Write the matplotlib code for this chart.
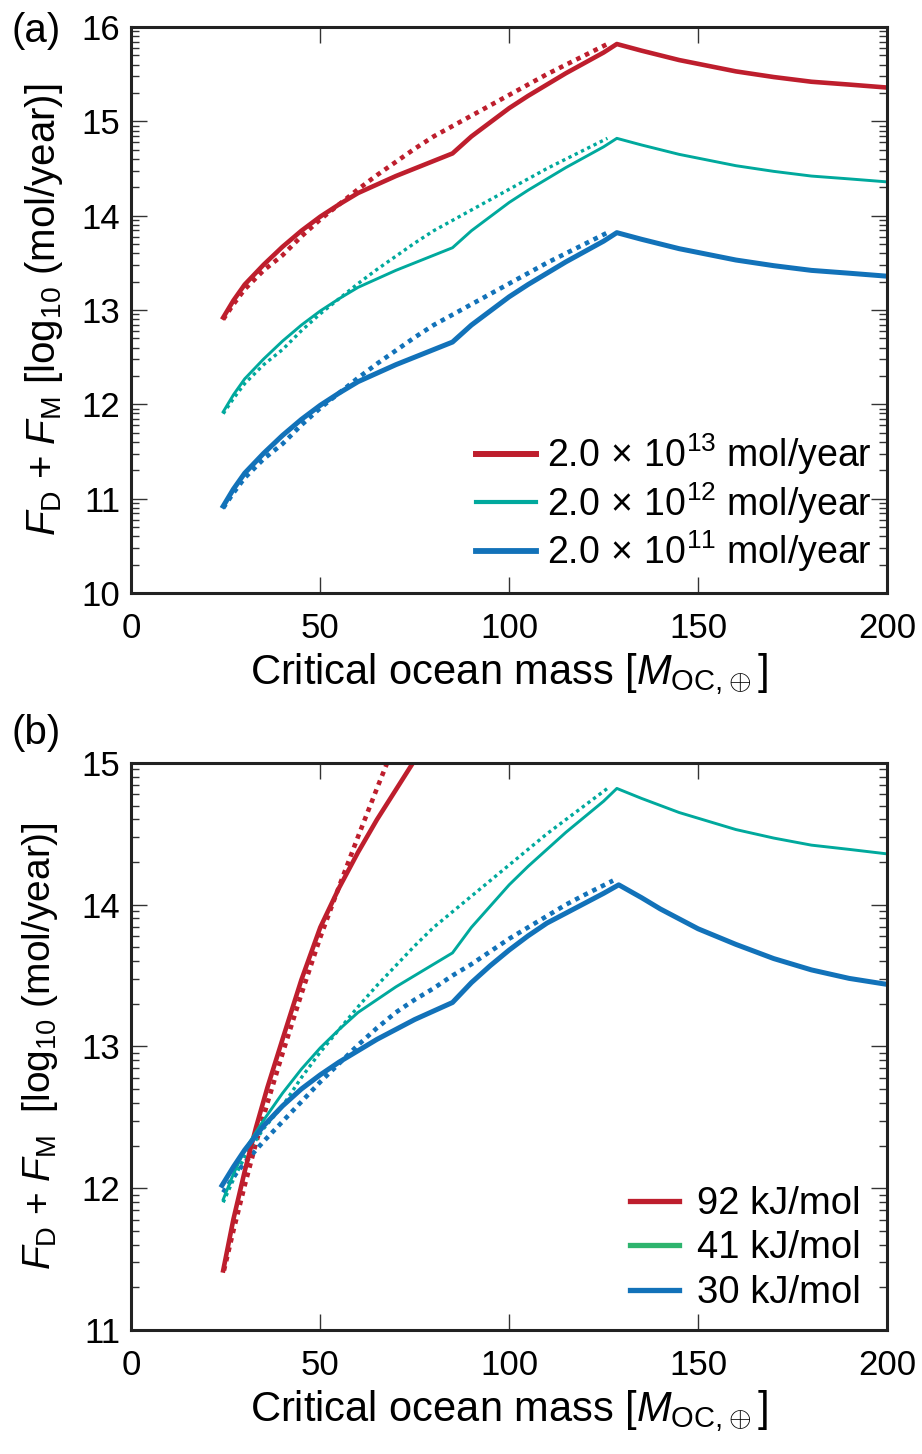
import numpy as np
import matplotlib
matplotlib.use("Agg")
import matplotlib.pyplot as plt
from matplotlib.lines import Line2D
from matplotlib.ticker import FixedLocator

# ============================================================
# DATA
# ============================================================

# --- panel (a): different mantle fluxes ---
xa_sol = [24.3, 27, 30, 35, 40, 45, 50, 55, 60, 65, 70, 75, 80, 85,
          90, 95, 100, 105, 110, 115, 120, 125, 128.5,
          135, 140, 145, 150, 160, 170, 180, 190, 199.5]
ya_red = [12.92, 13.10, 13.27, 13.48, 13.67, 13.84, 13.99, 14.12, 14.24, 14.33, 14.42, 14.50, 14.58, 14.66,
          14.84, 14.99, 15.14, 15.27, 15.39, 15.51, 15.62, 15.73, 15.82,
          15.75, 15.70, 15.65, 15.61, 15.53, 15.47, 15.42, 15.39, 15.36]
ya_teal = [11.92, 12.10, 12.27, 12.48, 12.67, 12.84, 12.99, 13.12, 13.24, 13.33, 13.42, 13.50, 13.58, 13.66,
           13.84, 13.99, 14.14, 14.27, 14.39, 14.51, 14.62, 14.73, 14.82,
           14.75, 14.70, 14.65, 14.61, 14.53, 14.47, 14.42, 14.39, 14.36]
ya_blue = [10.92, 11.10, 11.27, 11.48, 11.67, 11.84, 11.99, 12.12, 12.24, 12.33, 12.42, 12.50, 12.58, 12.66,
           12.84, 12.99, 13.14, 13.27, 13.39, 13.51, 13.62, 13.73, 13.82,
           13.75, 13.70, 13.65, 13.61, 13.53, 13.47, 13.42, 13.39, 13.36]

xa_dot = [24.3, 27, 30, 35, 40, 45, 50, 55, 60, 65, 70, 75, 80, 85,
          90, 95, 100, 105, 110, 115, 120, 126]
ya_red_dot = [12.90, 13.06, 13.22, 13.42, 13.58, 13.78, 13.96, 14.12, 14.28, 14.43, 14.57, 14.71, 14.84, 14.95,
              15.06, 15.17, 15.28, 15.39, 15.50, 15.60, 15.70, 15.82]
ya_teal_dot = [11.90, 12.06, 12.22, 12.42, 12.58, 12.78, 12.96, 13.12, 13.28, 13.43, 13.57, 13.71, 13.84, 13.95,
               14.06, 14.17, 14.28, 14.39, 14.50, 14.60, 14.70, 14.82]
ya_blue_dot = [10.90, 11.06, 11.22, 11.42, 11.58, 11.78, 11.96, 12.12, 12.28, 12.43, 12.57, 12.71, 12.84, 12.95,
               13.06, 13.17, 13.28, 13.39, 13.50, 13.60, 13.70, 13.82]

labels_a = [r"2.0$\,\times\,$10$^{13}$ mol/year",
            r"2.0$\,\times\,$10$^{12}$ mol/year",
            r"2.0$\,\times\,$10$^{11}$ mol/year"]

# --- panel (b): different activation energies ---
xb_red = [24.3, 27, 30, 33, 36, 40, 45, 50, 55, 60, 65, 70, 75]
yb_red = [11.42, 11.78, 12.12, 12.43, 12.71, 13.05, 13.47, 13.84, 14.12, 14.37, 14.60, 14.81, 15.02]
xb_red_dot = [24.5, 27, 30, 33, 36, 40, 45, 50, 55, 60, 65, 68]
yb_red_dot = [11.42, 11.70, 12.02, 12.32, 12.60, 12.95, 13.37, 13.77, 14.13, 14.48, 14.82, 15.02]

xb_blue = [24, 27, 30, 35, 40, 45, 50, 55, 60, 65, 70, 75, 80, 85,
           90, 95, 100, 105, 110, 115, 120, 125, 129,
           135, 140, 150, 160, 170, 180, 190, 199.5]
yb_blue = [12.02, 12.15, 12.27, 12.44, 12.58, 12.70, 12.80, 12.89, 12.97, 13.05, 13.12, 13.19, 13.25, 13.31,
           13.45, 13.57, 13.68, 13.78, 13.87, 13.94, 14.01, 14.08, 14.14,
           14.05, 13.97, 13.83, 13.72, 13.62, 13.54, 13.48, 13.44]
xb_blue_dot = [24.3, 27, 30, 35, 40, 45, 50, 55, 60, 65, 70, 75, 80, 85,
               90, 95, 100, 105, 110, 115, 120, 127.5]
yb_blue_dot = [11.97, 12.08, 12.18, 12.33, 12.47, 12.61, 12.75, 12.88, 13.01, 13.13, 13.24, 13.33, 13.41, 13.50,
               13.58, 13.67, 13.76, 13.84, 13.92, 14.00, 14.07, 14.17]

labels_b = ["92 kJ/mol", "41 kJ/mol", "30 kJ/mol"]

# ============================================================
# STYLE
# ============================================================

RED = "#BE1E2D"
TEAL = "#00A99D"
GREEN = "#2EB46E"
BLUE = "#1272B9"
DOT = (0, (1.0, 1.1))

plt.rcParams["font.family"] = ["Liberation Sans", "DejaVu Sans"]
plt.rcParams["mathtext.fontset"] = "custom"
plt.rcParams["mathtext.rm"] = "Liberation Sans"
plt.rcParams["mathtext.it"] = "Liberation Sans:italic"
plt.rcParams["mathtext.bf"] = "Liberation Sans:bold"

TICK_FS = 25
XLABEL_FS = 30


def style_axes(ax, ymin, ymax):
    ax.set_xlim(0, 200)
    ax.set_ylim(ymin, ymax)
    ax.set_xticks([0, 50, 100, 150, 200])
    ax.set_yticks(np.arange(ymin, ymax + 1))
    minors = [n + np.log10(k) for n in range(ymin, ymax) for k in range(2, 10)]
    ax.yaxis.set_minor_locator(FixedLocator(minors))
    ax.tick_params(which="both", direction="in", top=True, right=True,
                   labelsize=TICK_FS, color="#333333")
    ax.tick_params(which="major", length=11.5, width=1.0)
    ax.tick_params(which="minor", length=5.5, width=1.0)
    ax.tick_params(axis="x", pad=14)
    ax.tick_params(axis="y", pad=8)
    for s in ax.spines.values():
        s.set_linewidth(2.2)
        s.set_color("#222222")
    ax.set_xlabel(r"Critical ocean mass [$M_{\rm OC,\!\oplus}$]", fontsize=XLABEL_FS, labelpad=4)


fig = plt.figure(figsize=(9.22, 14.54), dpi=100)
ax1 = fig.add_axes([0.1425, 0.5922, 0.8195, 0.3892])
ax2 = fig.add_axes([0.1425, 0.0853, 0.8195, 0.3900])

# ============================================================
# PANEL (a)
# ============================================================

ax1.plot(xa_dot, ya_red_dot, color=RED, lw=3.3, linestyle=DOT)
ax1.plot(xa_dot, ya_teal_dot, color=TEAL, lw=2.4, linestyle=DOT)
ax1.plot(xa_dot, ya_blue_dot, color=BLUE, lw=3.3, linestyle=DOT)
ax1.plot(xa_sol, ya_red, color=RED, lw=3.3)
ax1.plot(xa_sol, ya_teal, color=TEAL, lw=2.1)
ax1.plot(xa_sol, ya_blue, color=BLUE, lw=3.6)

style_axes(ax1, 10, 16)
ax1.set_ylabel(r"$F_{\rm D}$ + $F_{\rm M}$ [log$_{10}$ (mol/year)]", fontsize=29)
ax1.yaxis.set_label_coords(-0.088, 0.5)

hand_a = [Line2D([], [], color=RED, lw=4.3),
          Line2D([], [], color=TEAL, lw=3.0),
          Line2D([], [], color=BLUE, lw=4.2)]
ax1.legend(hand_a, labels_a, loc="lower right", bbox_to_anchor=(1.005, 0.0),
           frameon=False, fontsize=27, handlelength=1.6, handletextpad=0.3,
           labelspacing=0.08, borderaxespad=0.1)
fig.text(0.012, 0.979, "(a)", fontsize=29, va="center", ha="left")

# ============================================================
# PANEL (b)
# ============================================================

ax2.plot(xb_red_dot, yb_red_dot, color=RED, lw=3.3, linestyle=DOT)
ax2.plot(xa_dot, ya_teal_dot, color=TEAL, lw=2.4, linestyle=DOT)
ax2.plot(xb_blue_dot, yb_blue_dot, color=BLUE, lw=3.3, linestyle=DOT)
ax2.plot(xb_red, yb_red, color=RED, lw=3.3)
ax2.plot(xa_sol, ya_teal, color=TEAL, lw=2.1)
ax2.plot(xb_blue, yb_blue, color=BLUE, lw=3.6)

style_axes(ax2, 11, 15)
ax2.set_ylabel(r"$F_{\rm D}$ + $F_{\rm M}$  [log$_{10}$ (mol/year)]", fontsize=28)
ax2.yaxis.set_label_coords(-0.094, 0.5)

hand_b = [Line2D([], [], color=RED, lw=3.8),
          Line2D([], [], color=GREEN, lw=3.8),
          Line2D([], [], color=BLUE, lw=3.8)]
ax2.legend(hand_b, labels_b, loc="lower right", bbox_to_anchor=(0.99, 0.0),
           frameon=False, fontsize=27.5, handlelength=1.3, handletextpad=0.45,
           labelspacing=0.22, borderaxespad=0.1)
fig.text(0.012, 0.496, "(b)", fontsize=29, va="center", ha="left")

fig.savefig("out.png", dpi=100)
